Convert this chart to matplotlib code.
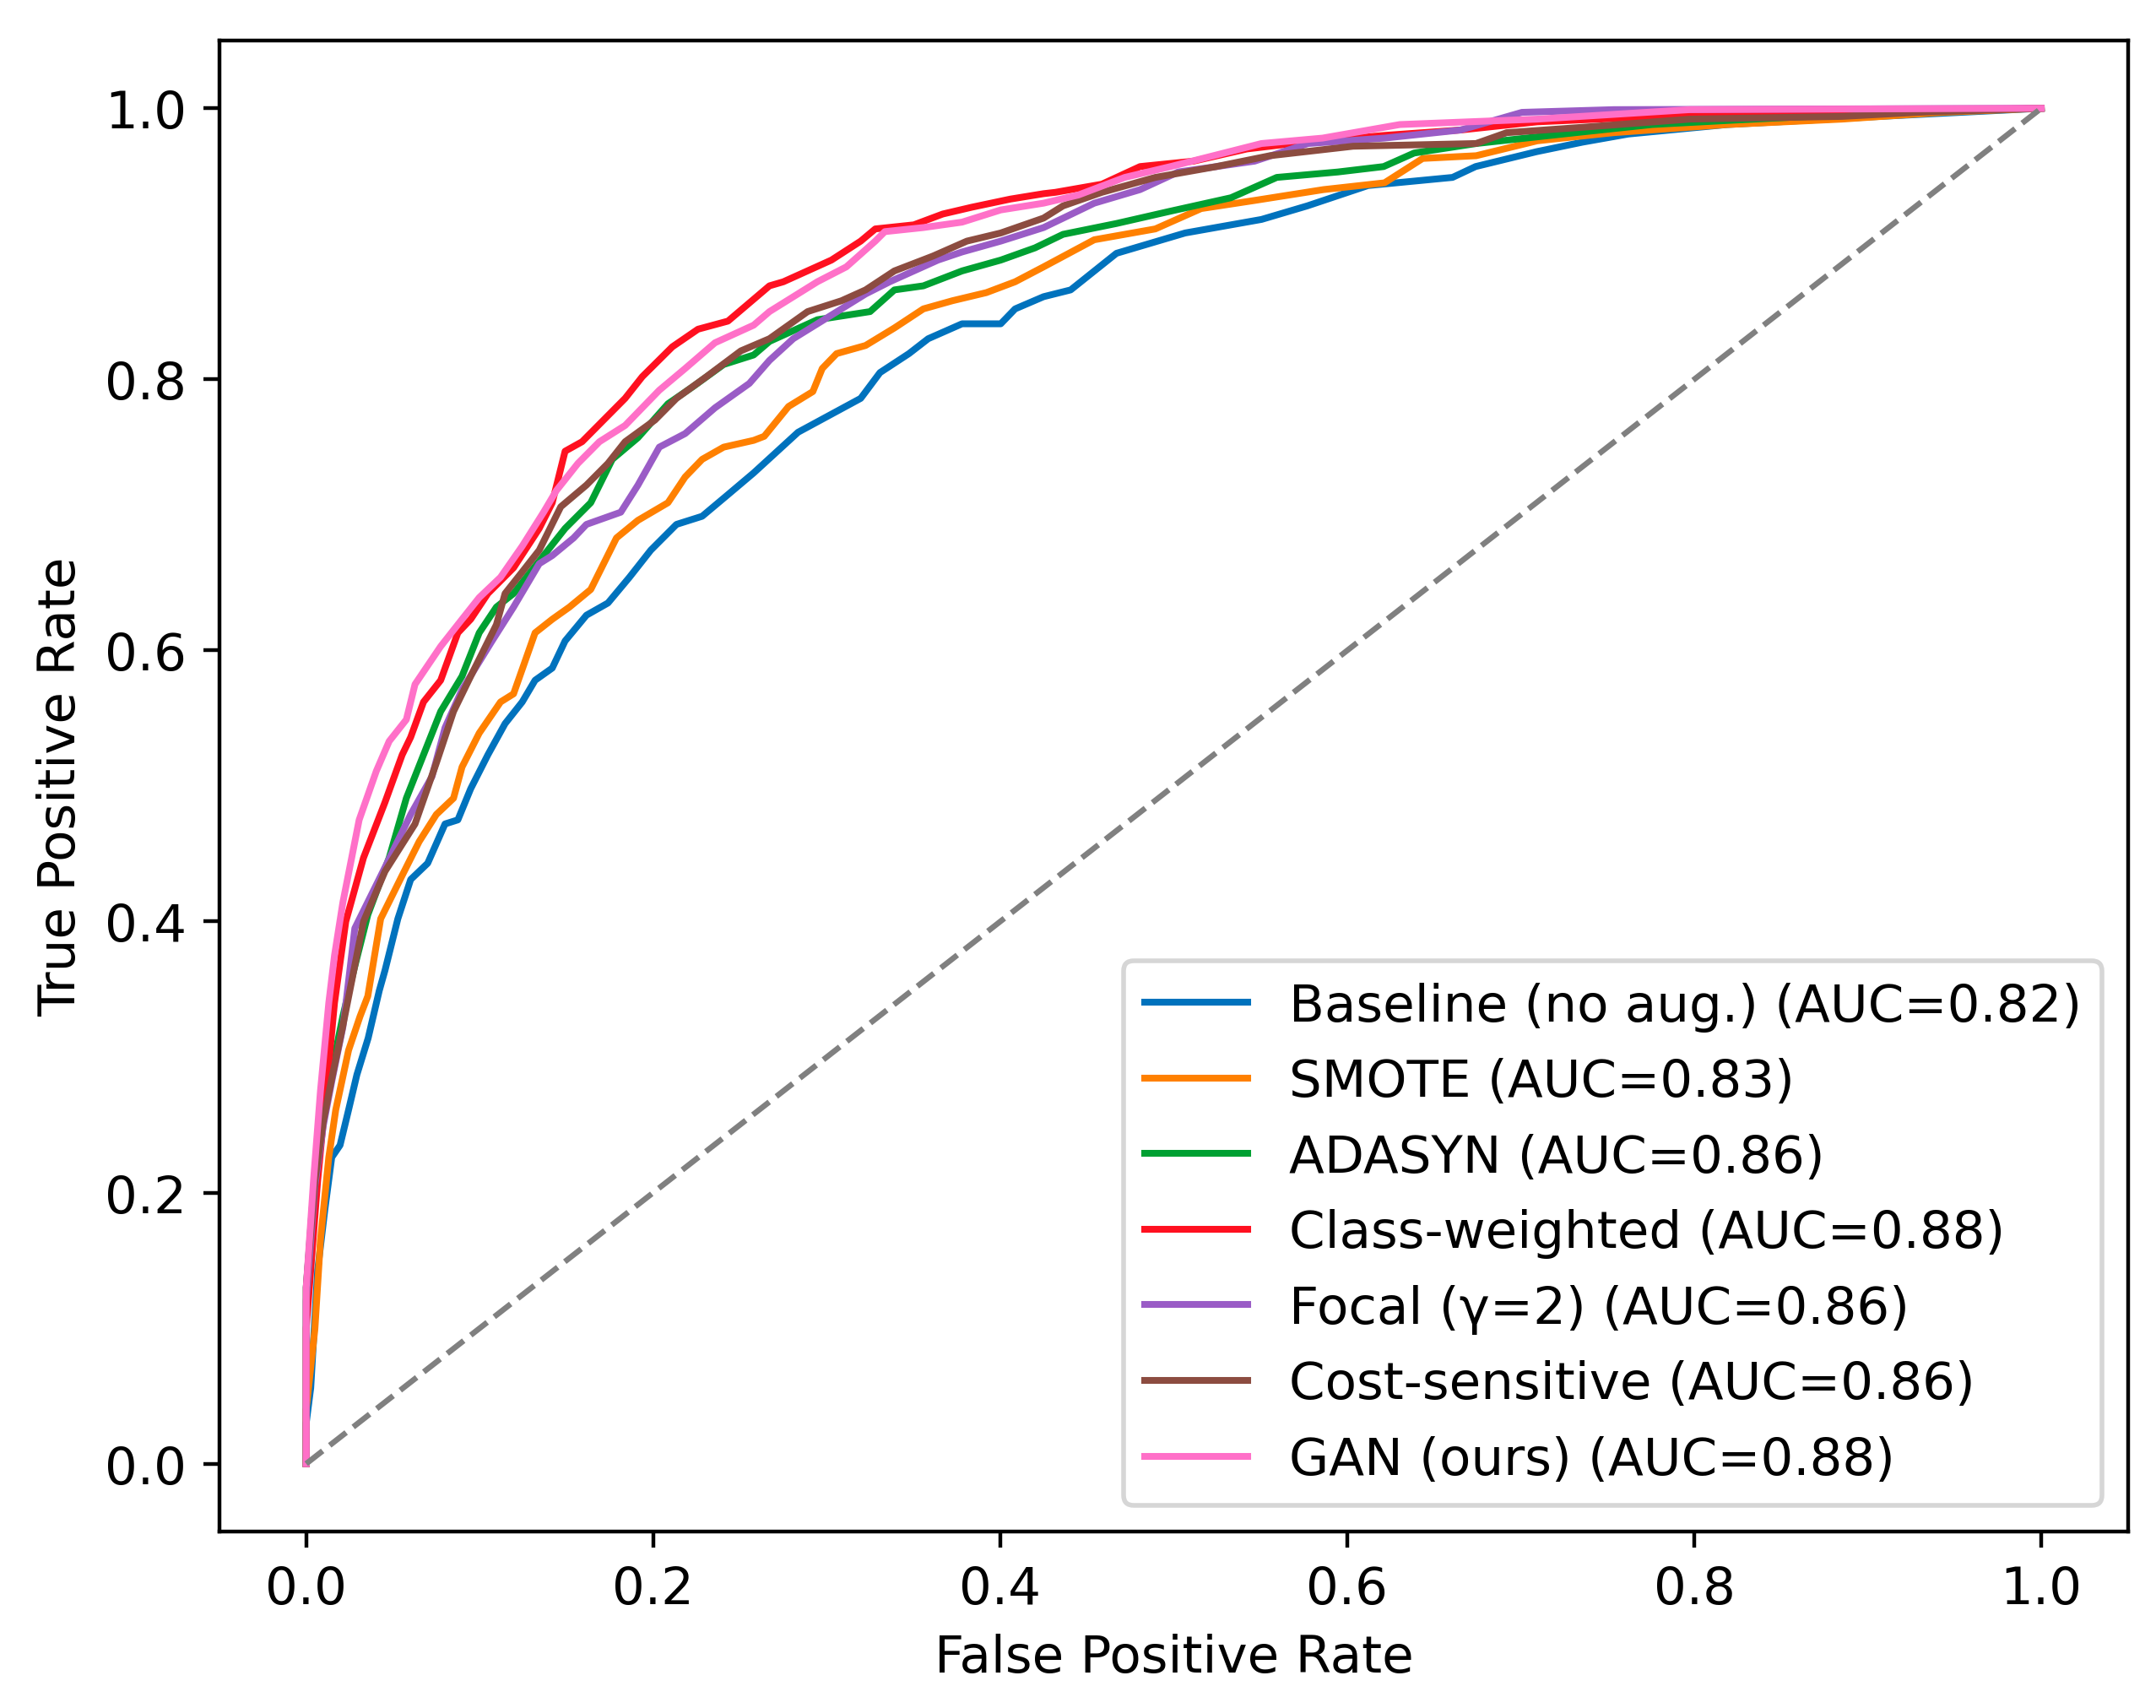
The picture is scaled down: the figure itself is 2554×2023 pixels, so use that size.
import matplotlib
matplotlib.use("Agg")
import matplotlib.pyplot as plt

plt.rcParams['font.size'] = 11

# ROC points (FPR, TPR)
fpr_baseline = [0, 0.0, 0.0026, 0.0066, 0.0107, 0.0147, 0.0195, 0.0244, 0.0292, 0.0357, 0.0421, 0.0454,
                0.0528, 0.0602, 0.070, 0.080, 0.0874, 0.0948, 0.1047, 0.1146, 0.1245, 0.1319, 0.1418, 0.1492,
                0.1615, 0.1739, 0.1863, 0.1986, 0.2134, 0.2282, 0.2431, 0.2579, 0.2835, 0.3196, 0.3307, 0.3474,
                0.3585, 0.378, 0.4003, 0.4086, 0.425, 0.4406, 0.467, 0.5066, 0.5506, 0.577, 0.612, 0.6607,
                0.674, 0.7092, 0.7356, 0.762, 0.819, 0.907, 1.0]
tpr_baseline = [0, 0.03, 0.056, 0.143, 0.187, 0.226, 0.235, 0.261, 0.287, 0.314, 0.349, 0.364,
                0.402, 0.431, 0.443, 0.472, 0.475, 0.498, 0.523, 0.546, 0.562, 0.578, 0.587, 0.607,
                0.626, 0.635, 0.654, 0.674, 0.693, 0.699, 0.715, 0.731, 0.761, 0.786, 0.805, 0.819,
                0.830, 0.841, 0.841, 0.852, 0.861, 0.866, 0.893, 0.908, 0.918, 0.928, 0.943, 0.949,
                0.957, 0.968, 0.975, 0.981, 0.988, 0.994, 1.0]

fpr_smote = [0, 0.0, 0.005, 0.0082, 0.013, 0.017, 0.0244, 0.031, 0.0355, 0.0429, 0.0553, 0.0651, 0.075,
             0.0849, 0.0898, 0.0997, 0.112, 0.1195, 0.1319, 0.1418, 0.1517, 0.164, 0.1714, 0.1788, 0.1912,
             0.2085, 0.2184, 0.2282, 0.2406, 0.2579, 0.264, 0.278, 0.292, 0.2974, 0.3057, 0.3224, 0.3391,
             0.3557, 0.3724, 0.392, 0.4086, 0.425, 0.4542, 0.4894, 0.5158, 0.5466, 0.5863, 0.6215, 0.6435,
             0.6743, 0.7095, 0.7535, 0.819, 0.885, 0.943, 1.0]
tpr_smote = [0, 0.04, 0.0995, 0.165, 0.226, 0.261, 0.305, 0.33, 0.345, 0.402, 0.434, 0.459, 0.479,
             0.491, 0.514, 0.539, 0.562, 0.568, 0.613, 0.623, 0.632, 0.645, 0.664, 0.683, 0.696,
             0.709, 0.728, 0.741, 0.750, 0.755, 0.758, 0.780, 0.791, 0.808, 0.819, 0.825, 0.838,
             0.852, 0.858, 0.864, 0.872, 0.883, 0.903, 0.911, 0.926, 0.932, 0.940, 0.945, 0.963,
             0.965, 0.976, 0.982, 0.988, 0.992, 0.997, 1.0]

fpr_adasyn = [0, 0.0, 0.005, 0.0099, 0.0147, 0.0211, 0.0276, 0.0355, 0.0478, 0.0577, 0.0676, 0.0775,
              0.0898, 0.0997, 0.1096, 0.1195, 0.1294, 0.1393, 0.1492, 0.164, 0.1764, 0.1912, 0.2085, 0.2233,
              0.2406, 0.2579, 0.267, 0.2946, 0.325, 0.339, 0.3557, 0.378, 0.4003, 0.420, 0.4362, 0.467,
              0.4978, 0.533, 0.5594, 0.5946, 0.621, 0.6386, 0.6743, 0.7316, 0.7756, 0.819, 0.929, 1.0]
tpr_adasyn = [0, 0.13, 0.215, 0.26, 0.29, 0.33, 0.365, 0.405, 0.447, 0.491, 0.523, 0.555,
              0.581, 0.613, 0.632, 0.642, 0.658, 0.674, 0.690, 0.709, 0.741, 0.757, 0.782, 0.795,
              0.811, 0.818, 0.828, 0.844, 0.850, 0.866, 0.869, 0.880, 0.888, 0.897, 0.907, 0.915,
              0.924, 0.934, 0.949, 0.953, 0.957, 0.967, 0.974, 0.982, 0.988, 0.991, 0.998, 1.0]

fpr_weighted = [0, 0.0, 0.0018, 0.0066, 0.0115, 0.0163, 0.0228, 0.033, 0.0454, 0.0553, 0.0602, 0.0676,
                0.0775, 0.0874, 0.0948, 0.1047, 0.1195, 0.1343, 0.1418, 0.1492, 0.159, 0.1714, 0.1838,
                0.1937, 0.211, 0.2258, 0.2431, 0.267, 0.275, 0.3027, 0.3196, 0.328, 0.3502, 0.3669, 0.3836,
                0.4058, 0.425, 0.4318, 0.4586, 0.4806, 0.5114, 0.5422, 0.5686, 0.6215, 0.6655, 0.7095,
                0.7975, 1.0]
tpr_weighted = [0, 0.10, 0.13, 0.209, 0.275, 0.34, 0.40, 0.447, 0.488, 0.523, 0.536, 0.562,
                0.578, 0.613, 0.623, 0.642, 0.661, 0.690, 0.709, 0.747, 0.754, 0.770, 0.786,
                0.802, 0.824, 0.837, 0.843, 0.869, 0.872, 0.888, 0.902, 0.911, 0.914, 0.922, 0.927,
                0.933, 0.937, 0.938, 0.944, 0.957, 0.961, 0.970, 0.974, 0.980, 0.984, 0.990,
                0.995, 1.0]

fpr_focal = [0, 0.0, 0.005, 0.0099, 0.0147, 0.0211, 0.0231, 0.028, 0.0454, 0.0602, 0.0725, 0.080,
             0.0898, 0.1071, 0.1195, 0.1343, 0.1418, 0.1541, 0.1615, 0.1813, 0.1912, 0.2035, 0.2184,
             0.2356, 0.2554, 0.267, 0.2807, 0.2946, 0.3085, 0.3224, 0.3363, 0.3641, 0.378, 0.4003, 0.425,
             0.4542, 0.4806, 0.5026, 0.5466, 0.5774, 0.6215, 0.6655, 0.7007, 0.7535, 1.0]
tpr_focal = [0, 0.12, 0.205, 0.25, 0.282, 0.322, 0.342, 0.395, 0.440, 0.479, 0.507, 0.543,
             0.571, 0.607, 0.632, 0.664, 0.670, 0.683, 0.693, 0.702, 0.722, 0.750, 0.760,
             0.779, 0.797, 0.814, 0.830, 0.841, 0.852, 0.863, 0.872, 0.888, 0.894, 0.902, 0.912,
             0.930, 0.940, 0.953, 0.961, 0.974, 0.978, 0.984, 0.997, 0.999, 1.0]

fpr_cost = [0, 0.0, 0.005, 0.0099, 0.0147, 0.0211, 0.0276, 0.033, 0.0454, 0.0627, 0.075, 0.0849,
            0.0948, 0.1096, 0.1146, 0.1245, 0.1343, 0.1467, 0.1615, 0.1739, 0.1838, 0.201, 0.2134,
            0.2307, 0.2505, 0.267, 0.289, 0.3085, 0.3224, 0.339, 0.3613, 0.3808, 0.4003, 0.425, 0.4362,
            0.4586, 0.4894, 0.5246, 0.5554, 0.6034, 0.6743, 0.6919, 0.7359, 0.7975, 0.885, 0.929, 1.0]
tpr_cost = [0, 0.13, 0.209, 0.253, 0.284, 0.323, 0.365, 0.40, 0.437, 0.472, 0.517, 0.555,
            0.581, 0.619, 0.642, 0.658, 0.674, 0.706, 0.722, 0.738, 0.754, 0.770, 0.786,
            0.802, 0.821, 0.830, 0.850, 0.858, 0.866, 0.880, 0.891, 0.902, 0.908, 0.919, 0.928,
            0.938, 0.949, 0.957, 0.965, 0.972, 0.974, 0.982, 0.986, 0.992, 0.994, 0.997, 1.0]

fpr_gan = [0, 0.0, 0.0042, 0.0082, 0.013, 0.0163, 0.0211, 0.0305, 0.0404, 0.0478, 0.0577, 0.0627,
           0.0775, 0.0898, 0.0997, 0.112, 0.1245, 0.1368, 0.1442, 0.1566, 0.169, 0.1838, 0.2035,
           0.2184, 0.2356, 0.2579, 0.267, 0.2946, 0.3113, 0.328, 0.3335, 0.3557, 0.378, 0.4003, 0.425,
           0.445, 0.4718, 0.4982, 0.5506, 0.5858, 0.6303, 0.7095, 0.7975, 1.0]
tpr_gan = [0, 0.13, 0.209, 0.275, 0.34, 0.375, 0.414, 0.475, 0.511, 0.533, 0.549, 0.575,
           0.603, 0.623, 0.639, 0.654, 0.677, 0.702, 0.718, 0.738, 0.754, 0.766, 0.792,
           0.808, 0.827, 0.840, 0.850, 0.872, 0.883, 0.902, 0.909, 0.912, 0.916, 0.925, 0.930,
           0.936, 0.949, 0.957, 0.974, 0.978, 0.988, 0.992, 0.999, 1.0]

labels = ['Baseline (no aug.) (AUC=0.82)', 'SMOTE (AUC=0.83)', 'ADASYN (AUC=0.86)',
          'Class-weighted (AUC=0.88)', 'Focal (γ=2) (AUC=0.86)', 'Cost-sensitive (AUC=0.86)',
          'GAN (ours) (AUC=0.88)']
# colours as they appear in the picture (a bit more saturated than tab10)
colors = ['#0072bd', '#ff8000', '#00a032', '#ff1020', '#9a5cc6', '#8c4c40', '#ff70c8']

curves = [(fpr_baseline, tpr_baseline), (fpr_smote, tpr_smote), (fpr_adasyn, tpr_adasyn),
          (fpr_weighted, tpr_weighted), (fpr_focal, tpr_focal), (fpr_cost, tpr_cost),
          (fpr_gan, tpr_gan)]

fig, ax = plt.subplots(figsize=(2554 / 400, 2024 / 400), dpi=400)
fig.subplots_adjust(left=0.1018, right=0.987, bottom=0.1033, top=0.9758)

for (fpr, tpr), lab, c in zip(curves, labels, colors):
    ax.plot(fpr, tpr, color=c, lw=1.45, label=lab)
ax.plot([0, 1], [0, 1], '--', color='gray', lw=1.2)

ax.set_xlabel('False Positive Rate')
ax.set_ylabel('True Positive Rate')
ax.legend(loc='lower right')

fig.savefig('out.png', dpi=400)
